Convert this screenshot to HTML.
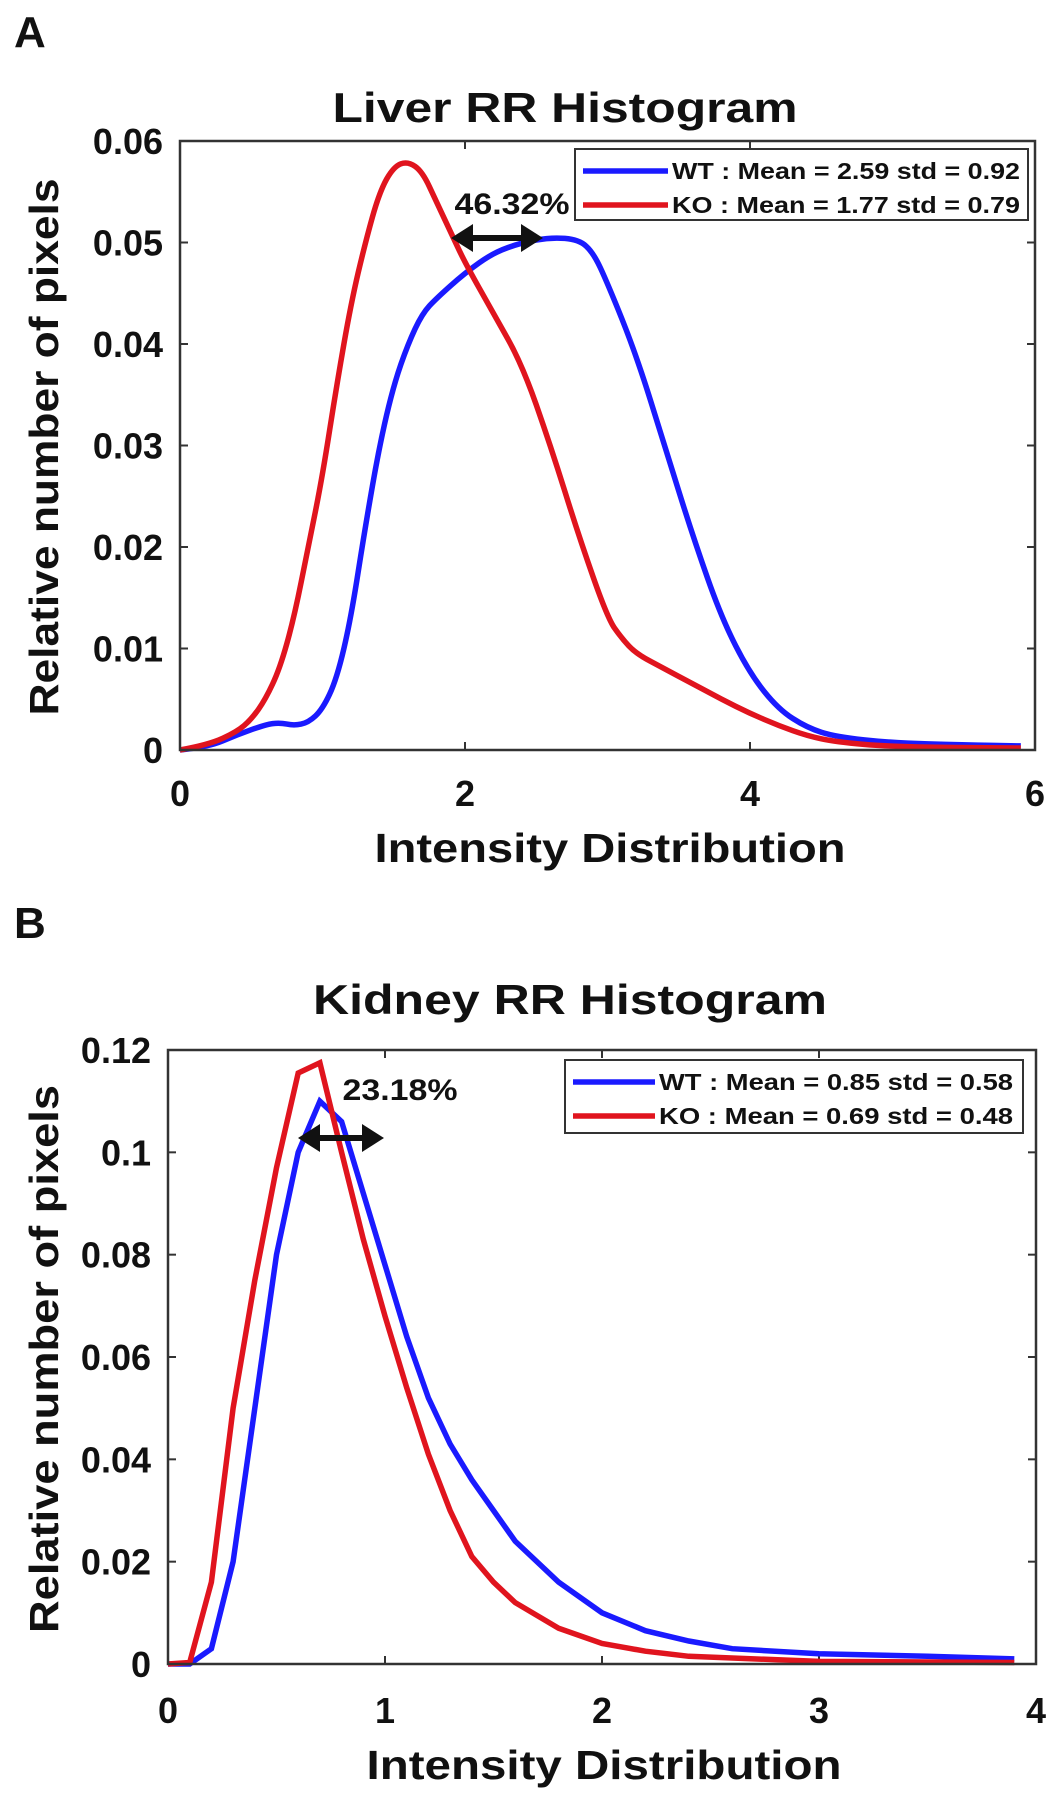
<!DOCTYPE html>
<html><head><meta charset="utf-8"><style>
html,body{margin:0;padding:0;background:#fff;width:1058px;height:1800px;overflow:hidden}
svg text{font-family:"Liberation Sans",Arial,sans-serif;font-weight:bold;fill:#111}
</style></head><body>
<svg id="fig" width="1058" height="1800" viewBox="0 0 1058 1800" xmlns="http://www.w3.org/2000/svg"></svg>
<script>
// Panel A (liver) data
const liverX = [0,0.2,0.4,0.6,0.7,0.8,0.9,1.0,1.1,1.2,1.3,1.4,1.5,1.6,1.7,1.8,2.0,2.2,2.4,2.6,2.8,2.9,3.0,3.2,3.4,3.6,3.8,4.0,4.2,4.4,4.6,5.0,5.5,5.9];
const liverWT = [0,0.0003,0.0015,0.0025,0.0027,0.0024,0.0027,0.004,0.007,0.013,0.022,0.030,0.036,0.040,0.043,0.0445,0.047,0.049,0.050,0.0505,0.0503,0.049,0.046,0.039,0.030,0.021,0.013,0.0075,0.004,0.0022,0.0013,0.0007,0.0005,0.0004];
const liverKOx = [0,0.2,0.4,0.5,0.6,0.7,0.8,0.9,1.0,1.1,1.2,1.3,1.4,1.5,1.6,1.7,1.8,1.9,2.0,2.2,2.4,2.6,2.8,3.0,3.1,3.2,3.4,3.6,3.8,4.0,4.2,4.4,4.6,5.0,5.9];
const liverKO = [0,0.0005,0.0018,0.003,0.005,0.008,0.013,0.020,0.027,0.036,0.044,0.050,0.055,0.0575,0.058,0.057,0.054,0.051,0.048,0.043,0.038,0.030,0.021,0.013,0.011,0.0095,0.008,0.0065,0.005,0.0036,0.0024,0.0014,0.0008,0.0003,0.0002];
const liverXTicks = [0,2,4,6];
const liverYTicks = [0,0.01,0.02,0.03,0.04,0.05,0.06];
const liverYLabels = ["0","0.01","0.02","0.03","0.04","0.05","0.06"];
// Panel B (kidney) data
const kidX = [0,0.1,0.2,0.3,0.4,0.5,0.6,0.7,0.8,0.9,1.0,1.1,1.2,1.3,1.4,1.5,1.6,1.8,2.0,2.2,2.4,2.6,3.0,3.5,3.9];
const kidWT = [0,0,0.003,0.02,0.05,0.08,0.1,0.11,0.106,0.092,0.078,0.064,0.052,0.043,0.036,0.030,0.024,0.016,0.010,0.0065,0.0045,0.003,0.002,0.0015,0.001];
const kidKOx = [0,0.1,0.2,0.3,0.4,0.5,0.6,0.7,0.8,0.9,1.0,1.1,1.2,1.3,1.4,1.5,1.6,1.8,2.0,2.2,2.4,3.0,3.9];
const kidKO = [0,0.0003,0.016,0.05,0.075,0.097,0.1155,0.1175,0.1,0.083,0.068,0.054,0.041,0.03,0.021,0.016,0.012,0.007,0.004,0.0025,0.0015,0.0005,0.0003];
const kidXTicks = [0,1,2,3,4];
const kidYTicks = [0,0.02,0.04,0.06,0.08,0.1,0.12];
const kidYLabels = ["0","0.02","0.04","0.06","0.08","0.1","0.12"];

const NS="http://www.w3.org/2000/svg";
const svg=document.getElementById('fig');
function mk(tag,attrs,parent){const e=document.createElementNS(NS,tag);for(const k in attrs)e.setAttribute(k,attrs[k]);(parent||svg).appendChild(e);return e;}
function txt(s,attrs,parent){const e=mk('text',attrs,parent);e.textContent=s;return e;}
function smoothPath(P){
  let d='M'+P[0][0].toFixed(1)+','+P[0][1].toFixed(1);
  for(let i=1;i<P.length-1;i++){
    const mx=(P[i][0]+P[i+1][0])/2,my=(P[i][1]+P[i+1][1])/2;
    d+=' Q'+P[i][0].toFixed(1)+','+P[i][1].toFixed(1)+' '+mx.toFixed(1)+','+my.toFixed(1);
  }
  const l=P[P.length-1];d+=' L'+l[0].toFixed(1)+','+l[1].toFixed(1);return d;
}

function panel(o){
  const g=mk('g',{});
  
  
  const sx=v=>o.L+(v-o.xmin)/(o.xmax-o.xmin)*(o.R-o.L);
  const sy=v=>o.B-(v-o.ymin)/(o.ymax-o.ymin)*(o.B-o.T);
  let t=txt(o.letter,{x:14,y:o.letterY,'font-size':44},g);
  
  t=txt(o.title,{x:o.titleX,y:o.titleY,'font-size':42,'text-anchor':'middle',textLength:o.titleW,lengthAdjust:'spacingAndGlyphs'},g);
  
  o.xTicks.forEach(v=>{
    const x=sx(v);
    const l1=mk('line',{x1:x,x2:x,y1:o.B,y2:o.B-8,stroke:'#333','stroke-width':2},g);
    
    mk('line',{x1:x,x2:x,y1:o.T,y2:o.T+8,stroke:'#333','stroke-width':2},g);
    const tl=txt(String(v),{x:x,y:o.xTickY,'font-size':36,'text-anchor':'middle'},g);
    
  });
  o.yTicks.forEach((v,i)=>{
    const y=sy(v);
    const l1=mk('line',{x1:o.L,x2:o.L+8,y1:y,y2:y,stroke:'#333','stroke-width':2},g);
    
    mk('line',{x1:o.R,x2:o.R-8,y1:y,y2:y,stroke:'#333','stroke-width':2},g);
    const tl=txt(o.yLabels[i],{x:o.L-17,y:y+13,'font-size':36,'text-anchor':'end'},g);
    
  });
  const P=(xs,ys)=>xs.map((x,i)=>[sx(x),sy(ys[i])]);
  const draw=(pts,color,name)=>{
    let p;
    if(o.smooth) p=mk('path',{d:smoothPath(pts),fill:'none',stroke:color,'stroke-width':5.5,'stroke-linejoin':'round'},g);
    else p=mk('polyline',{points:pts.map(q=>q[0].toFixed(1)+','+q[1].toFixed(1)).join(' '),fill:'none',stroke:color,'stroke-width':5.5,'stroke-linejoin':'miter'},g);
    
  };
  draw(P(o.wtX,o.wt),'#1a1aff','wt-line');
  draw(P(o.koX,o.ko),'#e0141e','ko-line');
  const fr=mk('rect',{x:o.L,y:o.T,width:o.R-o.L,height:o.B-o.T,fill:'none',stroke:'#333','stroke-width':2.5},g);
  
  t=txt('Intensity Distribution',{x:o.xlX,y:o.xlY,'font-size':41,'text-anchor':'middle',textLength:o.xlW,lengthAdjust:'spacingAndGlyphs'},g);
  
  t=txt('Relative number of pixels',{x:0,y:0,'font-size':41,'text-anchor':'middle',textLength:o.ylW,lengthAdjust:'spacingAndGlyphs',transform:`translate(${o.ylX},${o.ylY}) rotate(-90)`},g);
  
  const lg=mk('g',{},g);
  
  mk('rect',{x:o.lg.x,y:o.lg.y,width:o.lg.w,height:o.lg.h,fill:'#fff',stroke:'#333','stroke-width':2},lg);
  o.lg.rows.forEach(r=>{
    const e=mk('g',{},lg);
    
    mk('line',{x1:o.lg.l1,x2:o.lg.l2,y1:r.y,y2:r.y,stroke:r.c,'stroke-width':5.5},e);
    txt(r.t,{x:o.lg.tx,y:r.y+8,'font-size':23,textLength:o.lg.tw,lengthAdjust:'spacingAndGlyphs'},e);
  });
  t=txt(o.ann,{x:o.annX,y:o.annY+11,'font-size':30,'text-anchor':'middle',textLength:o.annW,lengthAdjust:'spacingAndGlyphs',style:'font-weight:600'},g);
  
  const a=mk('g',{},g);
  
  const ay=o.arY,ax1=o.arX1,ax2=o.arX2;
  mk('line',{x1:ax1+14,x2:ax2-14,y1:ay,y2:ay,stroke:'#111','stroke-width':6},a);
  mk('polygon',{points:`${ax1},${ay} ${ax1+22},${ay-14} ${ax1+22},${ay+14}`,fill:'#111'},a);
  mk('polygon',{points:`${ax2},${ay} ${ax2-22},${ay-14} ${ax2-22},${ay+14}`,fill:'#111'},a);
}

panel({name:'liver-panel',letter:'A',letterY:47,title:'Liver RR Histogram',titleX:565,titleY:122,titleW:465,
  L:180,R:1035,T:141,B:750,xmin:0,xmax:6,ymin:0,ymax:0.06,smooth:true,
  xTicks:liverXTicks,yTicks:liverYTicks,yLabels:liverYLabels,xTickY:806,
  wtX:liverX,wt:liverWT,koX:liverKOx,ko:liverKO,
  xlX:610,xlY:862,xlW:471,ylX:58,ylY:447,ylW:537,
  lg:{x:575,y:149,w:453,h:71,l1:583,l2:668,tx:672,tw:348,rows:[{y:171,c:'#1a1aff',t:'WT : Mean = 2.59 std = 0.92'},{y:205,c:'#e0141e',t:'KO : Mean = 1.77 std = 0.79'}]},
  ann:'46.32%',annX:512,annY:203,annW:115,arY:238,arX1:451,arX2:543});

panel({name:'kidney-panel',letter:'B',letterY:938,title:'Kidney RR Histogram',titleX:570,titleY:1014,titleW:514,
  L:168,R:1036,T:1050,B:1664,xmin:0,xmax:4,ymin:0,ymax:0.12,smooth:false,
  xTicks:kidXTicks,yTicks:kidYTicks,yLabels:kidYLabels,xTickY:1723,
  wtX:kidX,wt:kidWT,koX:kidKOx,ko:kidKO,
  xlX:604,xlY:1779,xlW:475,ylX:58,ylY:1359,ylW:548,
  lg:{x:565,y:1060,w:458,h:73,l1:573,l2:655,tx:659,tw:354,rows:[{y:1082,c:'#1a1aff',t:'WT : Mean = 0.85 std = 0.58'},{y:1116,c:'#e0141e',t:'KO : Mean = 0.69 std = 0.48'}]},
  ann:'23.18%',annX:400,annY:1089,annW:115,arY:1138,arX1:298,arX2:384});
</script>
</body></html>
